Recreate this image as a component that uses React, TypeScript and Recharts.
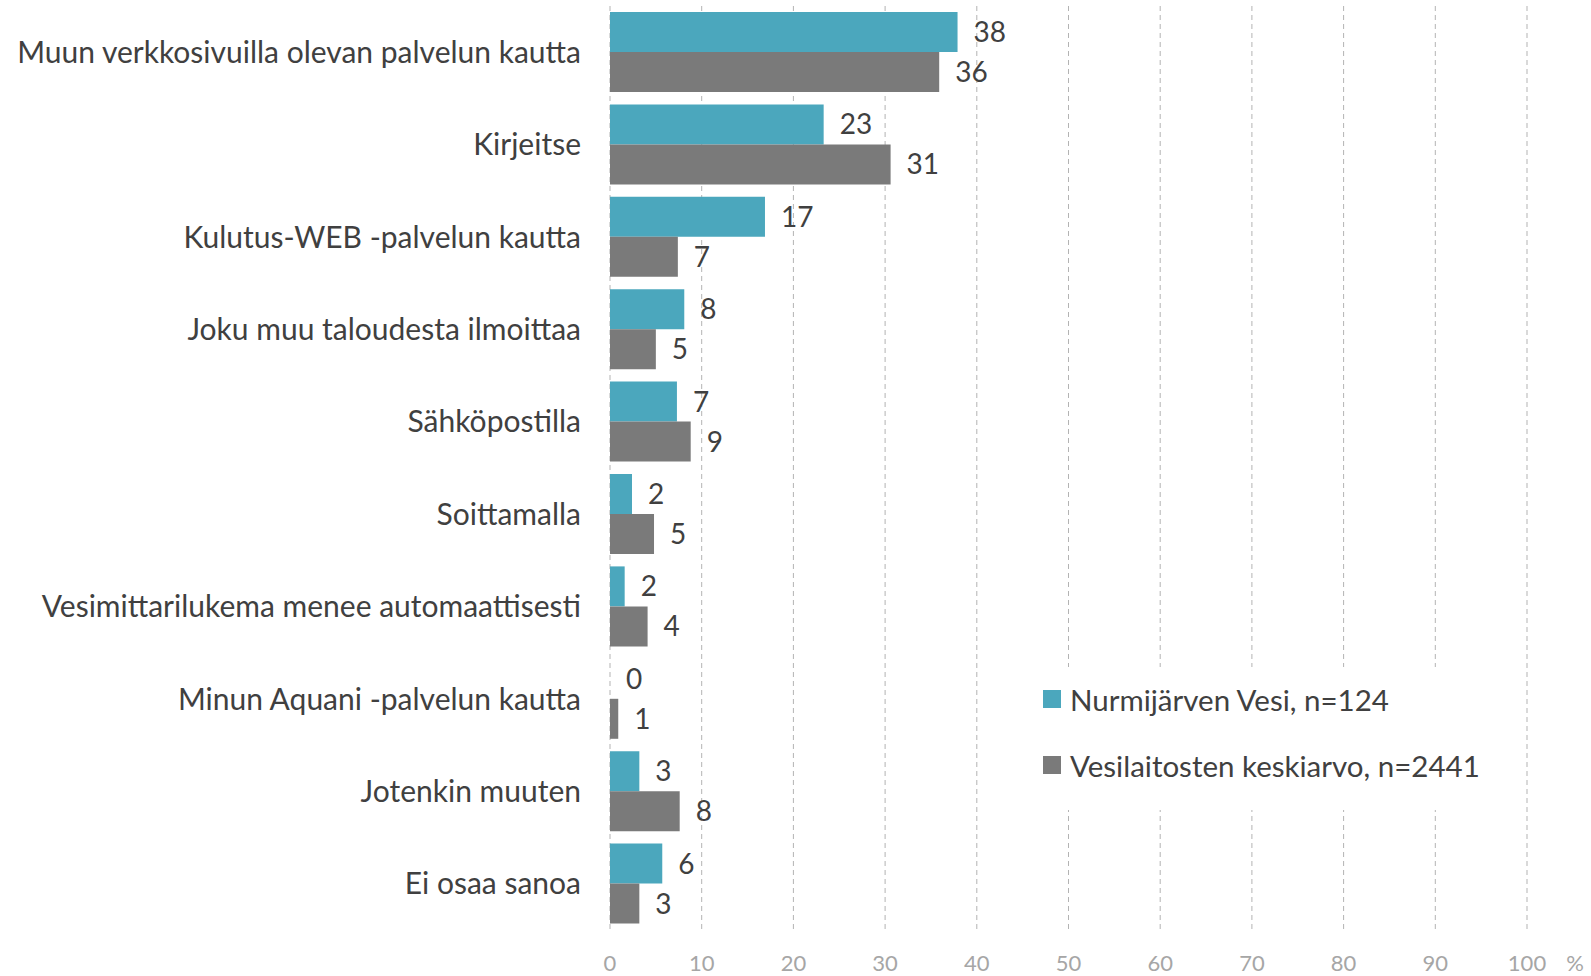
import { BarChart, Bar, XAxis, YAxis, CartesianGrid, LabelList, Rectangle } from 'recharts';

document.body.style.margin = '0';

const categories = [
    'Muun verkkosivuilla olevan palvelun kautta',
    'Kirjeitse',
    'Kulutus-WEB -palvelun kautta',
    'Joku muu taloudesta ilmoittaa',
    'Sähköpostilla',
    'Soittamalla',
    'Vesimittarilukema menee automaattisesti',
    'Minun Aquani -palvelun kautta',
    'Jotenkin muuten',
    'Ei osaa sanoa',
];

const nurmijarvi = [37.9, 23.3, 16.9, 8.1, 7.3, 2.4, 1.6, 0, 3.2, 5.7];
const average = [35.9, 30.6, 7.4, 5.0, 8.8, 4.8, 4.1, 0.9, 7.6, 3.2];

const xTicks = [0, 10, 20, 30, 40, 50, 60, 70, 80, 90, 100];

const SERIES = [
    { key: 'nurmijarvi', name: 'Nurmijärven Vesi, n=124', color: '#4ba7bd' },
    { key: 'average', name: 'Vesilaitosten keskiarvo, n=2441', color: '#7a7a7a' },
];

const FONT = 'Lato, "Open Sans", sans-serif';
const TEXT = '#404040';

const data = categories.map((name, i) => ({
    name,
    nurmijarvi: nurmijarvi[i],
    average: average[i],
}));

function XTick(props: any) {
    const { x, y, payload } = props;
    return (
        <g>
            <text x={x} y={y} dy="0.71em" textAnchor="middle" fill="#a6a6a6" fontSize={22} fontFamily={FONT}>
                {payload.value}
            </text>
            {payload.value === 100 && (
                <text x={x + 48} y={y} dy="0.71em" textAnchor="middle" fill="#a6a6a6" fontSize={22} fontFamily={FONT}>
                    %
                </text>
            )}
        </g>
    );
}

// value label right of the bar
function BarValue(props: any) {
    const { x, y, width, height, value } = props;
    const v = Number(value);
    const right = v === 0 ? Number(x) : Number(x) + Number(width);
    return (
        <text
            x={right + 16}
            y={Number(y) + Number(height) / 2}
            dy="0.36em"
            fill={TEXT}
            fontSize={28}
            fontFamily={FONT}
        >
            {Math.round(v)}
        </text>
    );
}

function LegendBox() {
    return (
        <div style={{ position: 'absolute', left: 1030, top: 667, width: 470, height: 143, background: '#fff', fontFamily: FONT }}>
            {SERIES.map((s, i) => (
                <div key={s.key} style={{ position: 'absolute', left: 13, top: 32 + i * 66 - 18, height: 36, display: 'flex', alignItems: 'center', whiteSpace: 'nowrap' }}>
                    <span style={{ display: 'inline-block', width: 18, height: 18, background: s.color, marginRight: 9 }} />
                    <span style={{ fontSize: 29.5, color: TEXT }}>{s.name}</span>
                </div>
            ))}
        </div>
    );
}

export default function App() {
    return (
        <div style={{ position: 'relative', width: 1591, height: 976 }}>
            <BarChart
                width={1591}
                height={976}
                data={data}
                layout="vertical"
                margin={{ top: 6, right: 64, bottom: 0, left: 0 }}
                barSize={40}
                barGap={0}
            >
                <CartesianGrid horizontal={false} stroke="#b3b3b3" strokeDasharray="5 4" />
                <XAxis
                    type="number"
                    domain={[0, 100]}
                    ticks={xTicks}
                    axisLine={false}
                    tickLine={false}
                    tickSize={0}
                    tickMargin={25}
                    height={46}
                    tick={<XTick />}
                    interval={0}
                />
                <YAxis
                    type="category"
                    dataKey="name"
                    width={610}
                    axisLine={false}
                    tickLine={false}
                    tickSize={0}
                    tickMargin={29}
                    interval={0}
                    tick={{ fill: TEXT, fontSize: 30, fontFamily: FONT }}
                />
                {SERIES.map(s => (
                    <Bar
                        key={s.key}
                        dataKey={s.key}
                        name={s.name}
                        fill={s.color}
                        minPointSize={1}
                        // zero bars keep a 1px slot so the label stays, but nothing is drawn
                        shape={(p: any) => (p.payload?.[s.key] === 0 ? <g /> : <Rectangle {...p} />)}
                        isAnimationActive={false}
                    >
                        <LabelList dataKey={s.key} content={<BarValue />} />
                    </Bar>
                ))}
            </BarChart>
            <LegendBox />
        </div>
    );
}
